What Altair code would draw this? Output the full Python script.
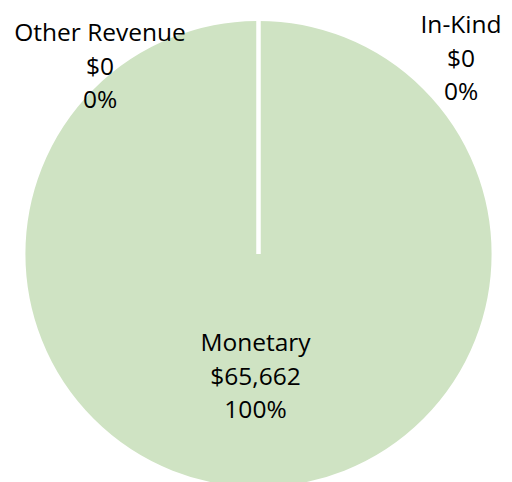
import altair as alt
import pandas as pd

categories = ["Monetary", "In-Kind", "Other Revenue"]
values = [65662, 0, 0]
colors = ["#CFE3C3", "#CFE3C3", "#CFE3C3"]

total = sum(values)
labels = [
    f"{c}\n${v:,.0f}\n{(v / total * 100):.0f}%" for c, v in zip(categories, values)
]
df = pd.DataFrame({"category": categories, "value": values, "label": labels})

CX, CY = 250.5, 246

base = alt.Chart(df)

pie = base.mark_arc(radius=235, stroke="white", strokeWidth=4).encode(
    theta=alt.Theta("value:Q", stack=True),
    color=alt.Color(
        "category:N",
        scale=alt.Scale(domain=categories, range=colors),
        legend=None,
    ),
    order=alt.Order("order:Q"),
    x=alt.value(CX),
    y=alt.value(CY),
).transform_calculate(order="indexof(['Monetary','In-Kind','Other Revenue'], datum.category)")

def text_layer(cat, radius, dx, dy=-33):
    return (
        base.transform_filter(alt.datum.category == cat)
        .mark_text(
            radius=radius,
            dx=dx,
            dy=dy,
            font="Open Sans",
            fontSize=24.5,
            lineHeight=33.5,
            lineBreak="\n",
            align="center",
            baseline="middle",
            color="#000000",
        )
        .encode(
            theta=alt.Theta("value:Q", stack=True),
            text="label:N",
            x=alt.value(CX),
            y=alt.value(CY),
        )
    )

chart = (
    alt.layer(
        pie,
        text_layer("Monetary", 123, -3),
        text_layer("Other Revenue", 187, -158.5),
        text_layer("In-Kind", 200, 202.5, -28),
    )
    .properties(width=496, height=474, padding=0, autosize="none", background="white")
    .configure_view(stroke=None)
)

chart.save("out.html", embed_options={"renderer": "svg", "actions": False})
